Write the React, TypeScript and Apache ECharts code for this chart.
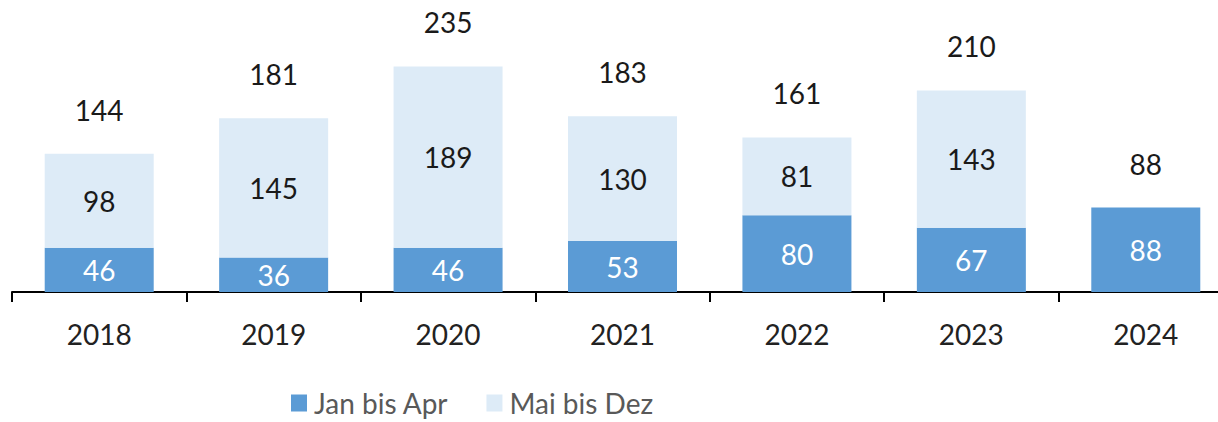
import React, { useEffect, useRef } from "react";
import * as echarts from "echarts";

const categories = ["2018", "2019", "2020", "2021", "2022", "2023", "2024"];
const janBisApr = [46, 36, 46, 53, 80, 67, 88];
const maiBisDez = [98, 145, 189, 130, 81, 143, 0];
const totals = [144, 181, 235, 183, 161, 210, 88];

const DARK = "#5B9BD5";
const LIGHT = "#DDEBF7";
const FONT = "Lato";

export default function App() {
  const ref = useRef<HTMLDivElement>(null);
  useEffect(() => {
    if (!ref.current) return;
    const chart = echarts.init(ref.current, undefined, { renderer: "svg" });
    chart.setOption({
      animation: false,
      grid: { left: 12, width: 1221, top: 4, bottom: 130, containLabel: false },
      legend: {
        bottom: 0,
        left: 286,
        itemWidth: 16,
        itemHeight: 17,
        itemGap: 38,
        icon: "rect",
        data: ["Jan bis Apr", "Mai bis Dez"],
        textStyle: { fontFamily: FONT, fontSize: 28, color: "#595959", padding: [0, 0, 0, 2] },
      },
      xAxis: {
        type: "category",
        data: categories,
        axisLine: { lineStyle: { color: "#000", width: 2 } },
        axisTick: { show: true, length: 10, lineStyle: { color: "#000", width: 2 } },
        axisLabel: { fontFamily: FONT, fontSize: 28, color: "#222", margin: 28 },
      },
      yAxis: { type: "value", min: 0, max: 300, show: false, splitLine: { show: false } },
      series: [
        {
          name: "Jan bis Apr",
          type: "bar",
          stack: "s",
          barWidth: 109,
          data: janBisApr,
          itemStyle: { color: DARK },
          label: { show: true, position: "inside", color: "#fff", fontFamily: FONT, fontSize: 28 },
        },
        {
          name: "Mai bis Dez",
          type: "bar",
          stack: "s",
          barWidth: 109,
          data: maiBisDez,
          itemStyle: { color: LIGHT },
          label: {
            show: true,
            position: "inside",
            color: "#1a1a1a",
            fontFamily: FONT,
            fontSize: 28,
            formatter: (p: any) => (p.value ? String(p.value) : ""),
          },
        },
        {
          name: "Summe",
          type: "bar",
          barWidth: 109,
          barGap: "-100%",
          data: totals,
          itemStyle: { color: "rgba(0,0,0,0)" },
          silent: true,
          z: 1,
          label: { show: true, position: "top", distance: 30, color: "#1a1a1a", fontFamily: FONT, fontSize: 28 },
        },
      ],
    });
    return () => chart.dispose();
  }, []);
  return (
    <div
      ref={ref}
      style={{ position: "fixed", left: 0, top: 0, width: 1240, height: 422, background: "#fff" }}
    />
  );
}
